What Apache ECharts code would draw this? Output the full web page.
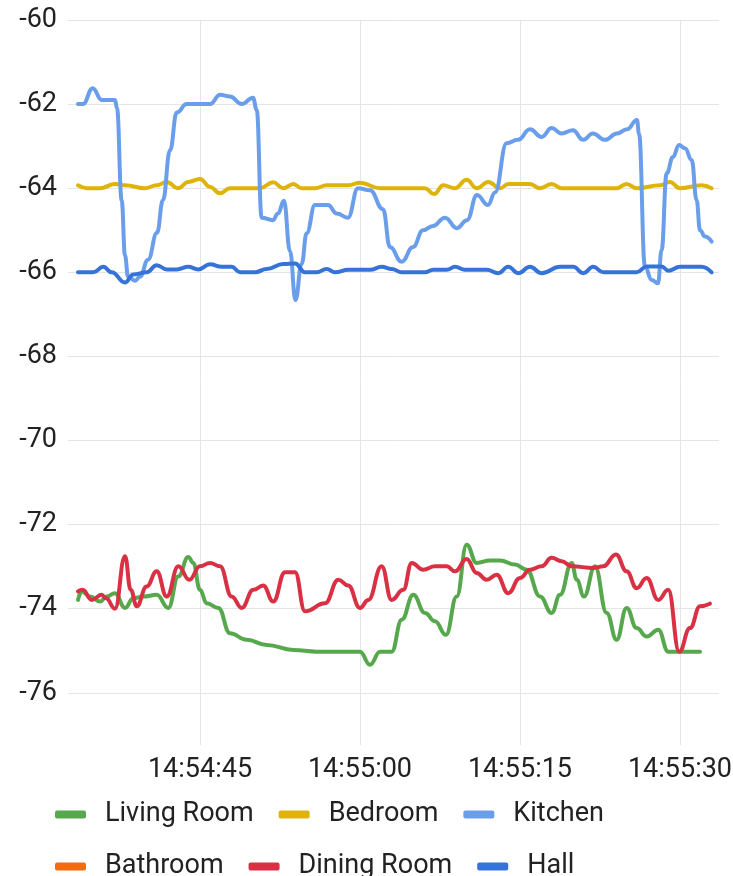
<!DOCTYPE html>
<html><head><meta charset="utf-8">
<script src="https://cdn.jsdelivr.net/npm/echarts@6/dist/echarts.min.js"></script>
<style>html,body{margin:0;padding:0;background:#fff}#c{width:733px;height:876px}</style>
</head><body><div id="c"></div>
<script>
// times are seconds after 14:54:00
const seriesNames = ['Living Room', 'Bedroom', 'Kitchen', 'Bathroom', 'Dining Room', 'Hall'];
const seriesColors = ['#57A84D', '#DEB40B', '#6A9EEB', '#F36B0E', '#D93044', '#3573D9'];
const yTicks = [-76, -74, -72, -70, -68, -66, -64, -62, -60];
const xTicks = [45, 60, 75, 90];

const livingTime = [33.56,33.91,34.69,35.63,36.25,37.03,37.97,38.75,39.68,40.94,42.03,42.97,43.9,44.37,45,45.63,46.72,47.81,49.38,51.25,53.75,55.94,60,60.94,61.88,62.97,63.91,65.0,66.09,67.03,68.06,69.07,70.0,70.94,72.19,73.13,74.53,75.63,76.88,77.97,78.75,79.85,80.32,81.0,82.03,83.13,84.06,85.0,85.94,86.88,87.97,88.9,91.88];
const livingValue = [-73.79,-73.59,-73.71,-73.83,-73.71,-73.63,-73.98,-73.75,-73.71,-73.67,-73.98,-73.23,-72.77,-72.91,-73.55,-73.87,-73.98,-74.58,-74.74,-74.86,-74.98,-75.02,-75.02,-75.33,-75.02,-75.02,-74.26,-73.67,-74.1,-74.3,-74.62,-73.71,-72.48,-72.91,-72.85,-72.85,-72.95,-73.07,-73.71,-74.1,-73.67,-72.91,-73.31,-73.71,-72.99,-74.1,-74.74,-73.98,-74.46,-74.66,-74.5,-75.02,-75.02];

const bedroomTime = [33.56,34.38,35.63,37.03,37.97,39.84,40.94,41.88,42.97,43.9,45.0,45.94,46.88,47.81,50.63,51.87,52.81,53.75,54.53,55.78,56.88,58.9,60.0,61.88,66.09,66.94,67.81,68.91,70.0,70.94,72.03,73.13,73.9,75.94,76.88,77.97,78.91,84.06,85.0,85.94,88.13,89.06,90.0,92.03,92.97];
const bedroomValue = [-63.93,-64.0,-64.0,-63.9,-63.93,-64.0,-63.93,-63.85,-64.0,-63.85,-63.78,-63.97,-64.12,-64.0,-64.0,-63.86,-64.0,-63.9,-64.0,-64.0,-63.93,-63.93,-63.87,-64.0,-64.0,-64.14,-63.93,-64.0,-63.8,-64.0,-63.85,-64.0,-63.9,-63.9,-64.0,-63.9,-64.0,-64.0,-63.9,-64.0,-63.93,-63.85,-64.0,-63.93,-64.0];

const kitchenTime = [33.56,34.03,34.94,35.78,37.03,37.22,37.66,37.97,38.25,38.91,39.38,40.13,40.97,41.53,42.19,42.82,43.75,45.94,46.88,47.81,48.91,49.97,50.32,50.78,51.84,52.31,52.87,53.44,53.95,54.53,55.0,55.78,57.0,57.82,58.88,59.81,60.94,62.16,62.81,63.91,64.97,65.91,66.84,67.97,69.09,70.03,70.97,72.0,72.66,73.75,74.81,75.94,77.03,77.97,78.91,79.97,80.91,81.84,82.97,84.09,85.03,85.97,86.16,86.72,87.35,87.94,88.28,88.75,89.34,89.91,90.47,91.1,91.56,91.88,92.35,92.97];
const kitchenValue = [-62.0,-62.0,-61.62,-61.9,-61.9,-62.1,-64.3,-65.6,-66.1,-66.2,-66.1,-65.7,-65.06,-64.28,-63.1,-62.2,-62.0,-62.0,-61.78,-61.82,-62.0,-61.85,-62.14,-64.7,-64.76,-64.6,-64.3,-65.5,-66.66,-65.8,-65.07,-64.4,-64.4,-64.6,-64.7,-64.0,-64.05,-64.5,-65.4,-65.75,-65.4,-65.0,-64.9,-64.7,-64.95,-64.76,-64.16,-64.4,-64.1,-62.93,-62.85,-62.6,-62.78,-62.57,-62.7,-62.62,-62.85,-62.7,-62.85,-62.7,-62.6,-62.38,-62.7,-65.87,-66.18,-66.26,-65.47,-63.65,-63.26,-62.97,-63.05,-63.33,-64.28,-65.0,-65.15,-65.27];

const bathroomTime = [];
const bathroomValue = [];

const diningTime = [33.56,34.0,34.85,35.78,36.19,37.03,37.97,38.5,39.07,40.0,40.94,41.88,42.97,44.0,45.0,45.94,46.88,47.97,48.91,50.0,50.93,51.87,52.97,53.91,54.84,56.72,57.97,58.9,60.0,60.78,62.03,62.97,64.06,64.85,65.93,67.03,68.13,68.91,70.0,70.94,71.88,72.82,73.9,75.0,75.94,77.03,77.97,78.91,79.85,81.87,82.81,84.0,85.0,85.94,86.88,87.97,88.9,89.93,90.94,91.88,92.81];
const diningValue = [-73.59,-73.55,-73.79,-73.67,-73.75,-74.0,-72.75,-73.55,-73.94,-73.47,-73.11,-73.71,-72.99,-73.31,-72.99,-72.91,-72.99,-73.71,-73.98,-73.55,-73.45,-73.83,-73.13,-73.13,-74.06,-73.87,-73.31,-73.45,-73.98,-73.79,-72.99,-73.79,-73.55,-72.91,-73.07,-72.99,-72.99,-73.11,-72.82,-73.15,-73.31,-73.19,-73.63,-73.27,-73.07,-72.99,-72.79,-72.87,-72.99,-73.03,-72.99,-72.71,-73.11,-73.51,-73.27,-73.79,-73.55,-75.02,-74.46,-73.94,-73.88];

const hallTime = [33.56,35.0,35.93,36.72,37.97,38.75,40.0,40.94,41.88,42.82,43.9,44.84,45.94,47.03,47.97,48.75,50.16,51.25,52.81,53.91,54.84,55.94,56.88,57.66,58.9,60.94,62.03,62.97,63.91,66.09,66.87,68.13,68.91,69.84,71.88,72.97,73.9,74.84,75.94,77.03,78.75,80.0,80.93,81.87,82.81,85.94,86.88,88.28,88.9,90.0,92.03,92.97];
const hallValue = [-66.0,-66.0,-65.87,-66.0,-66.24,-66.05,-66.0,-65.83,-65.93,-65.93,-65.87,-65.93,-65.81,-65.87,-65.87,-66.0,-66.0,-65.92,-65.8,-65.79,-66.0,-66.0,-65.92,-66.0,-65.94,-65.94,-65.87,-65.92,-66.0,-66.0,-65.94,-65.94,-65.87,-65.94,-65.94,-66.02,-65.87,-66.02,-65.87,-66.02,-65.87,-65.87,-66.02,-65.87,-66.0,-66.0,-65.86,-65.86,-65.96,-65.87,-65.87,-66.0];

const seriesTimes = [livingTime, bedroomTime, kitchenTime, bathroomTime, diningTime, hallTime];
const seriesValues = [livingValue, bedroomValue, kitchenValue, bathroomValue, diningValue, hallValue];

function zip(ts, vs) { return ts.map((t, i) => [t, vs[i]]); }
function fmtTime(v) {
  const m = 54 + Math.floor(v / 60);
  const s = Math.round(v % 60);
  return '14:' + String(m).padStart(2, '0') + ':' + String(s).padStart(2, '0');
}

const chart = echarts.init(document.getElementById('c'), null, { renderer: 'canvas' });
const font = 'Roboto';
chart.setOption({
  animation: false,
  backgroundColor: '#ffffff',
  color: seriesColors,
  grid: { left: 68, right: 14, top: 20, bottom: 131, containLabel: false, outerBoundsMode: 'none' },
  legend: {
    left: 55, top: 801, width: 620, padding: 0,
    itemWidth: 31, itemHeight: 8, itemGap: 25,
    icon: 'roundRect',
    data: seriesNames,
    textStyle: { fontFamily: font, fontSize: 27, color: '#222222', padding: [0, 0, 0, 14] }
  },
  xAxis: {
    type: 'value', min: 32.625, max: 93.66,
    axisLine: { show: false },
    axisTick: { show: false, customValues: xTicks },
    axisLabel: { customValues: xTicks, formatter: fmtTime, fontFamily: font, fontSize: 27, color: '#222222', margin: 12 },
    splitLine: { show: true, lineStyle: { color: '#e5e5e5', width: 1 } }
  },
  yAxis: {
    type: 'value', min: -77.24, max: -60,
    axisLine: { show: false },
    axisTick: { show: false, customValues: yTicks },
    axisLabel: { customValues: yTicks, fontFamily: font, fontSize: 27, color: '#222222', margin: 11 },
    splitLine: { show: true, lineStyle: { color: '#e5e5e5', width: 1 } }
  },
  series: seriesNames.map((name, i) => ({
    name: name,
    type: 'line',
    data: zip(seriesTimes[i], seriesValues[i]),
    showSymbol: false,
    symbol: 'none',
    smooth: 0.45,
    smoothMonotone: 'x',
    lineStyle: { width: 4, color: seriesColors[i], cap: 'round', join: 'round' },
    itemStyle: { color: seriesColors[i] },
    emphasis: { disabled: true }
  }))
});
</script>
</body></html>
